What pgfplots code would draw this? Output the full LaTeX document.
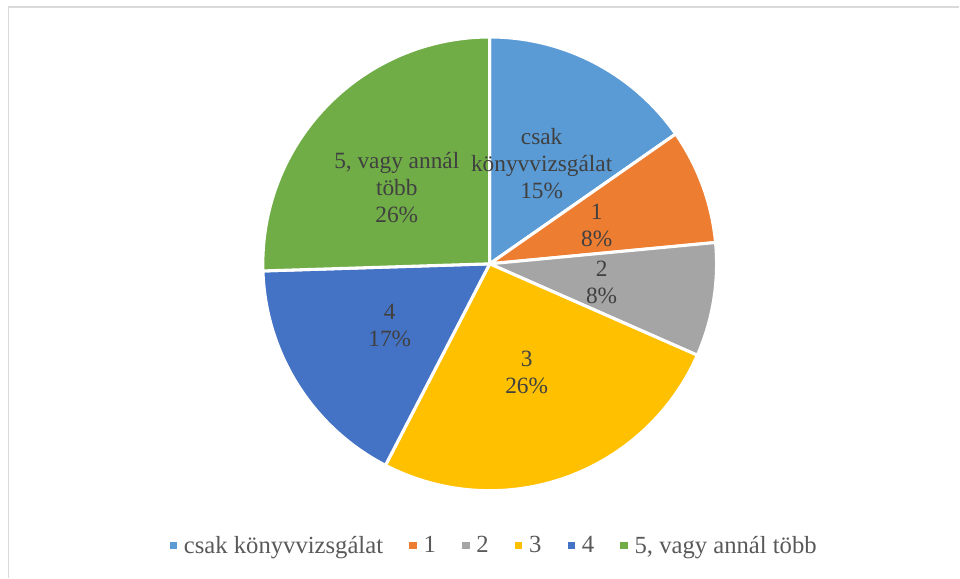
\documentclass[border=0pt]{standalone}
\usepackage{fontspec}
\setmainfont{Liberation Serif}
\usepackage{pgfplots}
\usepackage{pgfplotstable}
\pgfplotsset{compat=1.18}
\definecolor{cA}{HTML}{5B9BD5}
\definecolor{cB}{HTML}{ED7D31}
\definecolor{cC}{HTML}{A5A5A5}
\definecolor{cD}{HTML}{FFC000}
\definecolor{cE}{HTML}{4472C4}
\definecolor{cF}{HTML}{70AD47}
\definecolor{framec}{HTML}{D9D9D9}
\definecolor{lbl}{HTML}{404040}
\definecolor{leg}{HTML}{595959}

\pgfplotstableread{
cat value
0 15.3
1 8.2
2 8.1
3 26.0
4 16.9
5 25.5
}\piedata

\begin{document}
\pgfplotstablegetelem{0}{value}\of\piedata\pgfmathsetmacro\sA{\pgfplotsretval}%
\pgfplotstablegetelem{1}{value}\of\piedata\pgfmathsetmacro\sB{\pgfplotsretval}%
\pgfplotstablegetelem{2}{value}\of\piedata\pgfmathsetmacro\sC{\pgfplotsretval}%
\pgfplotstablegetelem{3}{value}\of\piedata\pgfmathsetmacro\sD{\pgfplotsretval}%
\pgfplotstablegetelem{4}{value}\of\piedata\pgfmathsetmacro\sE{\pgfplotsretval}%
\pgfplotstablegetelem{5}{value}\of\piedata\pgfmathsetmacro\sF{\pgfplotsretval}%
\pgfmathsetmacro\aA{90}%
\pgfmathsetmacro\aB{\aA-3.6*\sA}%
\pgfmathsetmacro\aC{\aB-3.6*\sB}%
\pgfmathsetmacro\aD{\aC-3.6*\sC}%
\pgfmathsetmacro\aE{\aD-3.6*\sD}%
\pgfmathsetmacro\aF{\aE-3.6*\sE}%
\pgfmathsetmacro\aG{\aF-3.6*\sF}%
\begin{tikzpicture}
\begin{axis}[
  scale only axis, width=720pt, height=433.5pt,
  xmin=0, xmax=960, ymin=0, ymax=578,
  hide axis, clip=false,
  legend style={at={(axis cs:495,32)}, anchor=center, draw=none, fill=none,
    font=\fontsize{18.5}{21}\selectfont, text=leg, legend columns=-1,
    nodes={inner sep=2.2pt},
    /tikz/every even column/.append style={column sep=17.5pt}},
  legend cell align=left,
  legend image code/.code={\fill[#1, draw=none] (0pt,-2.8pt) rectangle (5.6pt,2.8pt); \path (7.3pt,0pt);},
]
\path (axis cs:0,0) rectangle (axis cs:960,578);
\draw[framec, line width=0.9pt] (axis cs:8.5,0) -- (axis cs:8.5,571) -- (axis cs:960,571);

\addplot[fill=cA, draw=white, line width=2.3pt, line join=round, domain=\aB:\aA, samples=80]
  ({490+227*cos(x)},{314+227*sin(x)}) -- (axis cs:490,314) -- cycle;
\addlegendentry{csak könyvvizsgálat}
\addplot[fill=cB, draw=white, line width=2.3pt, line join=round, domain=\aC:\aB, samples=60]
  ({490+227*cos(x)},{314+227*sin(x)}) -- (axis cs:490,314) -- cycle;
\addlegendentry{1}
\addplot[fill=cC, draw=white, line width=2.3pt, line join=round, domain=\aD:\aC, samples=60]
  ({490+227*cos(x)},{314+227*sin(x)}) -- (axis cs:490,314) -- cycle;
\addlegendentry{2}
\addplot[fill=cD, draw=white, line width=2.3pt, line join=round, domain=\aE:\aD, samples=120]
  ({490+227*cos(x)},{314+227*sin(x)}) -- (axis cs:490,314) -- cycle;
\addlegendentry{3}
\addplot[fill=cE, draw=white, line width=2.3pt, line join=round, domain=\aF:\aE, samples=80]
  ({490+227*cos(x)},{314+227*sin(x)}) -- (axis cs:490,314) -- cycle;
\addlegendentry{4}
\addplot[fill=cF, draw=white, line width=2.3pt, line join=round, domain=\aG:\aF, samples=120]
  ({490+227*cos(x)},{314+227*sin(x)}) -- (axis cs:490,314) -- cycle;
\addlegendentry{5, vagy annál több}

\tikzset{lab/.style={text=lbl, align=center, font=\fontsize{17.5}{20.25}\selectfont}}
\node[lab] at (axis cs:542,414) {csak\\könyvvizsgálat\\15\%};
\node[lab] at (axis cs:597,352) {1\\8\%};
\node[lab] at (axis cs:602,295) {2\\8\%};
\node[lab] at (axis cs:527,205) {3\\26\%};
\node[lab] at (axis cs:390,252) {4\\17\%};
\node[lab] at (axis cs:397,390) {5, vagy annál\\több\\26\%};
\end{axis}
\end{tikzpicture}
\end{document}
